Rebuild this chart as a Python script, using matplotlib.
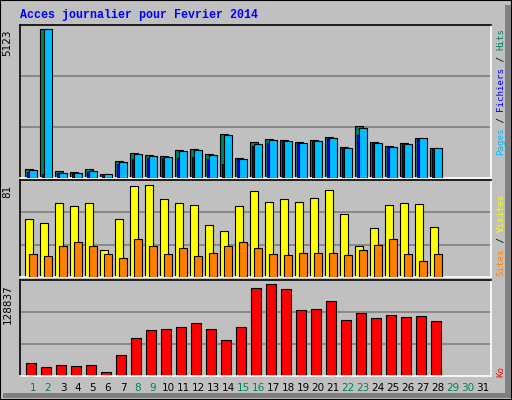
import matplotlib
matplotlib.use("Agg")
import matplotlib.pyplot as plt
from matplotlib.patches import Rectangle

days = list(range(1, 32))
day_labels = [str(d) for d in days]
weekend = [1, 2, 8, 9, 15, 16, 22, 23, 29, 30]
ndata = 28
hits = [300, 5123, 230, 200, 300, 140, 580, 855, 785, 750, 960, 990, 820, 1510, 680, 1230,
        1340, 1300, 1230, 1300, 1400, 1060, 1785, 1230, 1095, 1200, 1370, 1025]
fichiers = [270, 5123, 170, 170, 240, 140, 540, 820, 750, 715, 925, 960, 785, 1475, 650, 1160,
            1300, 1270, 1200, 1270, 1370, 1025, 1715, 1200, 1060, 1160, 1370, 1025]
pages = [200, 140, 170, 170, 220, 130, 480, 660, 690, 690, 680, 720, 660, 480, 640, 1100,
         1200, 1270, 1200, 1270, 1370, 1025, 1475, 1200, 1060, 1160, 1340, 1000]
visites = [51, 47, 65, 62, 65, 24, 51, 80, 81, 68, 65, 63, 46, 40, 62, 75,
           66, 68, 66, 69, 76, 55, 27, 43, 63, 65, 64, 44]
sites = [20, 18, 27, 31, 27, 20, 17, 33, 27, 20, 25, 18, 21, 27, 31, 25,
         20, 19, 21, 21, 21, 19, 24, 28, 33, 20, 14, 20]
ko = [17800, 12200, 15000, 13600, 15000, 5150, 29050, 52950, 64200, 65600, 68400, 74000, 65600,
      50100, 68400, 123200, 128837, 121800, 92300, 93700, 104900, 78200, 88100, 81000, 85300,
      82500, 83900, 76800]
max_hits = 5123
max_vis = 81
max_ko = 128837

W, H = 512, 400
fig = plt.figure(figsize=(5.12, 4.0), dpi=100)
fig.patch.set_facecolor('#c0c0c0')

def fx(px): return px / W
def fy(py): return 1 - py / H

# outer frame
fig.add_artist(Rectangle((fx(0), fy(400)), 1, 1, transform=fig.transFigure, fill=False, ec='black', lw=1.5))
fig.add_artist(Rectangle((fx(505), fy(397)), fx(6), 392 / H, transform=fig.transFigure, fc='#808080', ec='none'))
fig.add_artist(Rectangle((fx(3), fy(398)), 508 / W, 5 / H, transform=fig.transFigure, fc='#808080', ec='none'))

def make_ax(top, bottom):
    ax = fig.add_axes([fx(20), fy(bottom), fx(491) - fx(20), (bottom - top) / H])
    ax.set_facecolor('#c0c0c0')
    ax.set_xlim(1 - 13 / 15, 31.53)
    ax.set_xticks([]); ax.set_yticks([])
    for s in ['left', 'top']:
        ax.spines[s].set_color('black')
    for s in ['right', 'bottom']:
        ax.spines[s].set_color('white')
    for s in ax.spines.values():
        s.set_linewidth(1.2)
    return ax

x = days[:ndata]
u = 1 / 15

ax1 = make_ax(25, 178)
top1 = max_hits * 152 / 148
ax1.set_ylim(0, top1)
for g in (1 / 3, 2 / 3):
    ax1.axhline(top1 * g, color='#808080', lw=1.2, zorder=0)
ax1.bar([d - 8 * u for d in x], hits, width=8 * u, align='edge', color='#00805f', ec='black', lw=0.8, zorder=2)
ax1.bar([d - 6 * u for d in x], pages, width=3 * u, align='edge', color='#0000ff', ec='black', lw=0.6, zorder=3)
ax1.bar([d - 4 * u for d in x], fichiers, width=8 * u, align='edge', color='#00bfff', ec='black', lw=0.8, zorder=4)

ax2 = make_ax(180, 277)
top2 = 85
ax2.set_ylim(0, top2)
for g in (1 / 3, 2 / 3):
    ax2.axhline(top2 * g, color='#808080', lw=1.2, zorder=0)
ax2.bar([d - 8 * u for d in x], visites, width=8 * u, align='edge', color='#ffff00', ec='black', lw=0.8, zorder=2)
ax2.bar([d - 4 * u for d in x], sites, width=8 * u, align='edge', color='#ff8000', ec='black', lw=0.8, zorder=3)

ax3 = make_ax(280, 376)
top3 = 134900
ax3.set_ylim(0, top3)
for g in (1 / 3, 2 / 3):
    ax3.axhline(top3 * g, color='#808080', lw=1.2, zorder=0)
ax3.bar([d - 7 * u for d in x], ko, width=10 * u, align='edge', color='#ff0000', ec='black', lw=0.8, zorder=2)

# max labels
for ax, lab, val in ((ax1, str(max_hits), max_hits), (ax2, str(max_vis), max_vis), (ax3, str(max_ko), max_ko)):
    ax.text(-0.016, val, lab, transform=ax.get_yaxis_transform(), rotation=90,
            ha='right', va='top', fontsize=7.5, family='DejaVu Sans')

# day labels
for d, lab in zip(days, day_labels):
    fig.text(fx(33 + 15 * (d - 1)), fy(388), lab, ha='center', va='center', fontsize=7.5,
             color='#007f5f' if d in weekend else 'black', family='DejaVu Sans')

fig.text(fx(20), fy(15), 'Acces journalier pour Fevrier 2014', ha='left', va='center',
         fontsize=8.4, fontweight='bold', color='#0000ff', family='Liberation Mono')

def vlabel(xpx, ybottom, pieces, cw=5.5):
    y = ybottom
    for txt, col in pieces:
        fig.text(fx(xpx), fy(y), txt, rotation=90, ha='center', va='bottom', color=col,
                 fontsize=6.6, family='DejaVu Sans Mono')
        y -= len(txt) * cw

vlabel(501, 155, [('Pages', '#00bfff'), (' / ', 'black'), ('Fichiers', '#0000ff'),
                  (' / ', 'black'), ('Hits', '#00805f')])
vlabel(501, 276, [('Sites', '#ff8000'), (' / ', 'black'), ('Visites', '#ffff00')])
vlabel(501, 377, [('Ko', '#ff0000')])

fig.savefig('out.png', dpi=100, facecolor=fig.get_facecolor())
